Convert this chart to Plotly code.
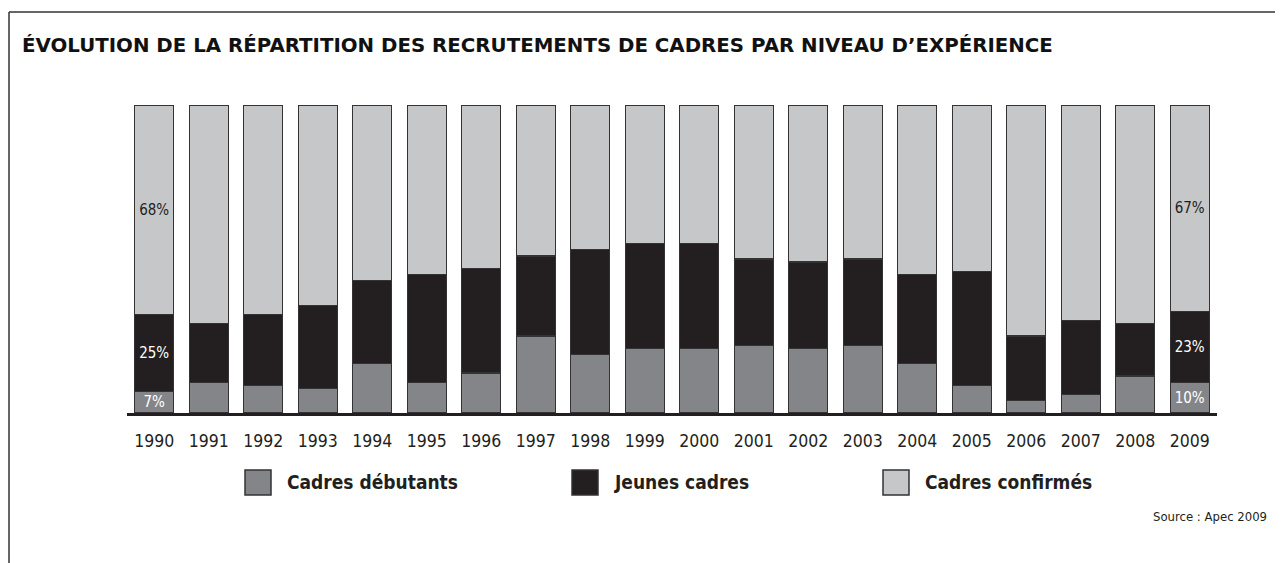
import plotly.graph_objects as go

years = [str(y) for y in range(1990, 2010)]
debutants = [7, 10, 9, 8, 16, 10, 13, 25, 19, 21, 21, 22, 21, 22, 16, 9, 4, 6, 12, 10]
jeunes = [25, 19, 23, 27, 27, 35, 34, 26, 34, 34, 34, 28, 28, 28, 29, 37, 21, 24, 17, 23]
confirmes = [68, 71, 68, 65, 57, 55, 53, 49, 47, 45, 45, 50, 51, 50, 55, 54, 75, 70, 71, 67]
series_names = ["Cadres débutants", "Jeunes cadres", "Cadres confirmés"]
series_colors = ["#848589", "#231f20", "#c6c7c9"]
text_colors = ["white", "white", "#231f20"]
labelled_years = ["1990", "2009"]

title = "ÉVOLUTION DE LA RÉPARTITION DES RECRUTEMENTS DE CADRES PAR NIVEAU D’EXPÉRIENCE"
source = "Source : Apec 2009"

OFF = 8  # page body margin
W, H = 1283 - OFF, 563 - OFF
L, R, T, B = 127 - OFF, 1217 - OFF, 105 - OFF, 413 - OFF
FONT = "DejaVu Sans Condensed"


def px(x):
    return (x - OFF - L) / (R - L)


def py(y):
    return (B - (y - OFF)) / (B - T)


fig = go.Figure()
for name, vals, col, tcol in zip(series_names, [debutants, jeunes, confirmes], series_colors, text_colors):
    txt = [f"{v}%" if yr in labelled_years else "" for yr, v in zip(years, vals)]
    fig.add_trace(go.Bar(
        x=years, y=vals, name=name, text=txt,
        textposition="inside", insidetextanchor="middle", textangle=0,
        insidetextfont=dict(family=FONT, size=15, color=tcol),
        marker=dict(color=col, line=dict(color="#333333", width=1.3)),
        showlegend=False, hoverinfo="x+y+name",
    ))

shapes = []
annotations = []
# frame
shapes.append(dict(type="line", xref="paper", yref="paper", x0=px(9), x1=px(1290), y0=py(12), y1=py(12),
                   line=dict(color="#333333", width=1.5)))
shapes.append(dict(type="line", xref="paper", yref="paper", x0=px(9), x1=px(9), y0=py(12), y1=py(570),
                   line=dict(color="#333333", width=1.5)))
# legend
leg_x = [245, 572, 883]
for lx, name, col in zip(leg_x, series_names, series_colors):
    shapes.append(dict(type="rect", xref="paper", yref="paper", x0=px(lx), x1=px(lx + 26),
                       y0=py(495), y1=py(470), fillcolor=col, line=dict(color="#333333", width=1.5)))
    annotations.append(dict(xref="paper", yref="paper", x=px(lx + 40), y=py(482), xanchor="left",
                            yanchor="middle", text=f"<b>{name}</b>", showarrow=False,
                            font=dict(family=FONT, size=19, color="#231f20")))
annotations.append(dict(xref="paper", yref="paper", x=px(20), y=py(45), xanchor="left", yanchor="middle",
                        text=f"<b>{title}</b>", showarrow=False,
                        font=dict(family="DejaVu Sans", size=19.8, color="#111111")))
annotations.append(dict(xref="paper", yref="paper", x=px(1269), y=py(517), xanchor="right", yanchor="middle",
                        text=source, showarrow=False,
                        font=dict(family=FONT, size=13, color="#231f20")))

fig.update_layout(
    barmode="stack", bargap=0.284,
    width=W, height=H,
    margin=dict(l=L, r=W - R, t=T, b=H - B, pad=0),
    paper_bgcolor="white", plot_bgcolor="white",
    shapes=shapes, annotations=annotations,
    uniformtext=dict(minsize=13, mode="show"),
    xaxis=dict(type="category", showline=True, linecolor="#231f20", linewidth=2.5, ticks="",
               ticklabelstandoff=10,
               tickfont=dict(family=FONT, size=17.5, color="#231f20"), showgrid=False, zeroline=False),
    yaxis=dict(range=[0, 100], visible=False, showgrid=False, zeroline=False),
)

fig.write_html("out.html")
